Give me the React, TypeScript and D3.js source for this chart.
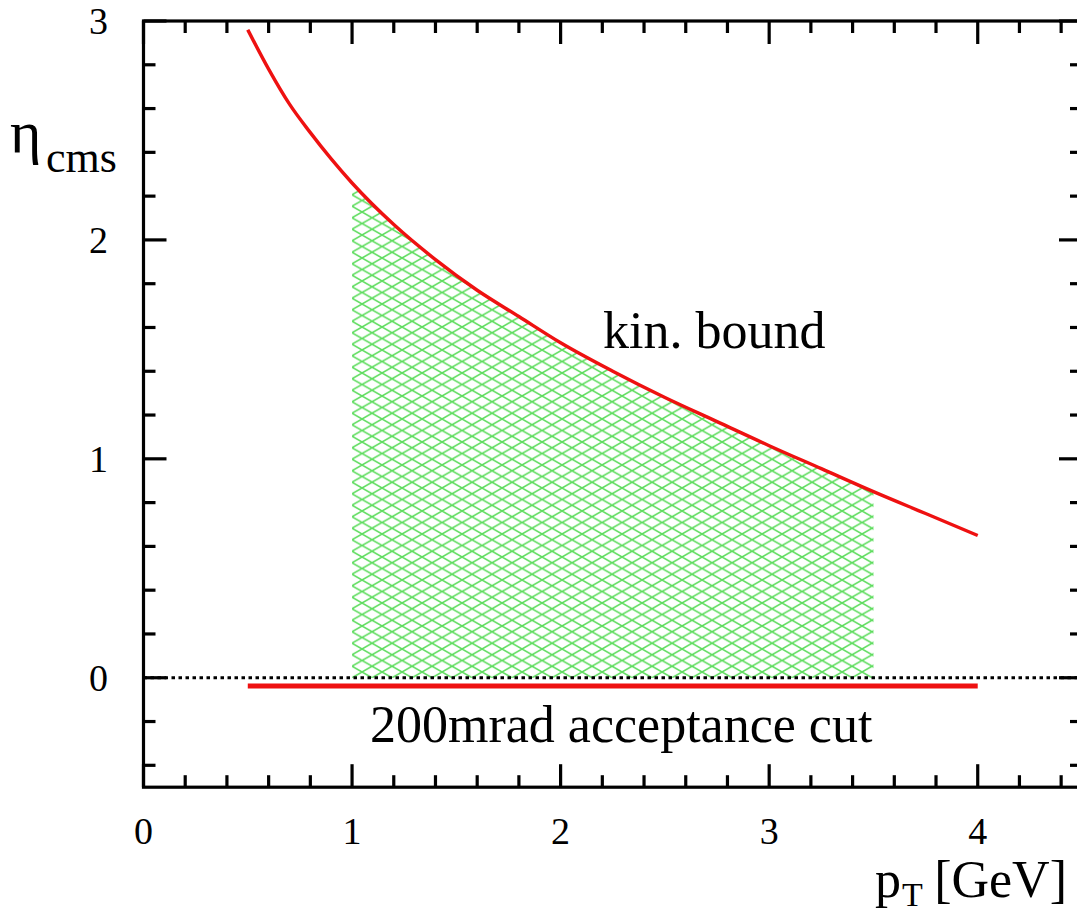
import React from 'react';
import * as d3 from 'd3';

// Kinematic bound curve
const pTValues = [0.5, 0.6, 0.7, 0.8, 0.9, 1.0, 1.2, 1.4, 1.6, 1.8, 2.0, 2.25, 2.5, 2.75, 3.0, 3.25, 3.5, 3.75, 4.0];
const etaBound = [2.96, 2.78, 2.62, 2.49, 2.37, 2.26, 2.07, 1.91, 1.77, 1.65, 1.53, 1.40, 1.28, 1.17, 1.06, 0.955, 0.85, 0.75, 0.65];
// 200 mrad acceptance cut line
const cutPT = [0.5, 4.0];
const cutEta = [-0.038, -0.038];
// hatched acceptance region (pT range)
const hatchPT = [1.0, 3.5];
// axes
const xDomain = [0, 4.5];
const yDomain = [-0.5, 3];
const xMajorTicks = [0, 1, 2, 3, 4];
const xTickLabels = ['0', '1', '2', '3', '4'];
const yMajorTicks = [0, 1, 2, 3];
const yTickLabels = ['0', '1', '2', '3'];
const minorStep = 0.2;

const W = 1077;
const H = 913;
const FONT = "'Liberation Serif', 'Times New Roman', Times, serif";

export default function App() {
  const x = d3.scaleLinear().domain(xDomain).range([143.5, 1082]);
  const y = d3.scaleLinear().domain(yDomain).range([787.2, 21]);

  const pts = pTValues.map((p, i) => ({ p, e: etaBound[i] }));
  const line = d3
    .line<{ p: number; e: number }>()
    .x((d) => x(d.p))
    .y((d) => y(d.e))
    .curve(d3.curveMonotoneX);
  const hatchPts = pts.filter((d) => d.p >= hatchPT[0] - 1e-9 && d.p <= hatchPT[1] + 1e-9);
  const area = d3
    .area<{ p: number; e: number }>()
    .x((d) => x(d.p))
    .y0(() => y(0))
    .y1((d) => y(d.e))
    .curve(d3.curveMonotoneX);

  const isMajor = (v: number) => Math.abs(v - Math.round(v)) < 1e-6;
  const xMinor = d3.range(xDomain[0], xDomain[1] + 1e-9, minorStep).filter((v) => !isMajor(v) && v < xDomain[1] - 1e-6);
  const yMinor = d3.range(-0.4, 3, minorStep).filter((v) => !isMajor(v));

  const [x0, x1] = x.range();
  const [yb, yt] = y.range();
  const MAJ = 23;
  const MIN = 12;
  const tickW = 3.2;
  const hw = 20;
  const hh = 11.5;

  return (
    <svg width={W} height={H} style={{ position: 'absolute', left: 0, top: 0, background: '#fff' }}>
      <defs>
        <pattern id="hatch" patternUnits="userSpaceOnUse" width={hw} height={hh} x={x(hatchPT[0])} y={y(0)}>
          <path d={`M0,0 L${hw},${hh} M0,${hh} L${hw},0`} stroke="#5ddc5d" strokeWidth={1.5} fill="none" />
        </pattern>
      </defs>
      <rect width={W} height={H} fill="#fff" />

      {/* hatched region */}
      <path d={area(hatchPts) || ''} fill="url(#hatch)" stroke="none" />

      {/* dotted zero line */}
      <line x1={x0} x2={x1} y1={y(0)} y2={y(0)} stroke="#000" strokeWidth={3} strokeDasharray="3.5,3.5" />

      {/* cut line */}
      <line x1={x(cutPT[0])} x2={x(cutPT[1])} y1={y(cutEta[0])} y2={y(cutEta[1])} stroke="#ee1111" strokeWidth={5} />

      {/* kinematic bound */}
      <path d={line(pts) || ''} fill="none" stroke="#ee1111" strokeWidth={3.4} />

      {/* frame */}
      <rect x={x0} y={yt} width={x1 - x0} height={yb - yt} fill="none" stroke="#000" strokeWidth={3.2} />

      {/* x ticks */}
      {xMajorTicks.map((v) => (
        <g key={'xM' + v}>
          <line x1={x(v)} x2={x(v)} y1={yb} y2={yb - MAJ} stroke="#000" strokeWidth={tickW} />
          <line x1={x(v)} x2={x(v)} y1={yt} y2={yt + MAJ} stroke="#000" strokeWidth={tickW} />
        </g>
      ))}
      {xMinor.map((v) => (
        <g key={'xm' + v}>
          <line x1={x(v)} x2={x(v)} y1={yb} y2={yb - MIN} stroke="#000" strokeWidth={tickW} />
          <line x1={x(v)} x2={x(v)} y1={yt} y2={yt + MIN} stroke="#000" strokeWidth={tickW} />
        </g>
      ))}
      {/* y ticks */}
      {yMajorTicks.map((v) => (
        <g key={'yM' + v}>
          <line x1={x0} x2={x0 + MAJ} y1={y(v)} y2={y(v)} stroke="#000" strokeWidth={tickW} />
          <line x1={x1} x2={x1 - MAJ} y1={y(v)} y2={y(v)} stroke="#000" strokeWidth={tickW} />
        </g>
      ))}
      {yMinor.map((v) => (
        <g key={'ym' + v}>
          <line x1={x0} x2={x0 + MIN} y1={y(v)} y2={y(v)} stroke="#000" strokeWidth={tickW} />
          <line x1={x1} x2={x1 - MIN} y1={y(v)} y2={y(v)} stroke="#000" strokeWidth={tickW} />
        </g>
      ))}

      {/* tick labels */}
      {xMajorTicks.map((v, i) => (
        <text key={'xl' + v} x={x(v)} y={844} textAnchor="middle" fontFamily={FONT} fontSize={38} fill="#000">
          {xTickLabels[i]}
        </text>
      ))}
      {yMajorTicks.map((v, i) => (
        <text key={'yl' + v} x={108} y={y(v) + 13} textAnchor="end" fontFamily={FONT} fontSize={38} fill="#000">
          {yTickLabels[i]}
        </text>
      ))}

      {/* axis titles */}
      <text x={10} y={152} fontFamily={FONT} fontSize={60} fill="#000">
        η
      </text>
      <text x={46} y={172} fontFamily={FONT} fontSize={44} fill="#000">
        cms
      </text>
      <text x={875} y={897} fontFamily={FONT} fontSize={52} fill="#000">
        p
      </text>
      <text x={902} y={906} fontFamily={FONT} fontSize={34} fill="#000">
        T
      </text>
      <text x={1067} y={897} textAnchor="end" fontFamily={FONT} fontSize={52} fill="#000">
        [GeV]
      </text>

      {/* annotations */}
      <text x={603} y={348} fontFamily={FONT} fontSize={52} fill="#000">
        kin. bound
      </text>
      <text x={370} y={742} fontFamily={FONT} fontSize={52} fill="#000">
        200mrad acceptance cut
      </text>
    </svg>
  );
}
